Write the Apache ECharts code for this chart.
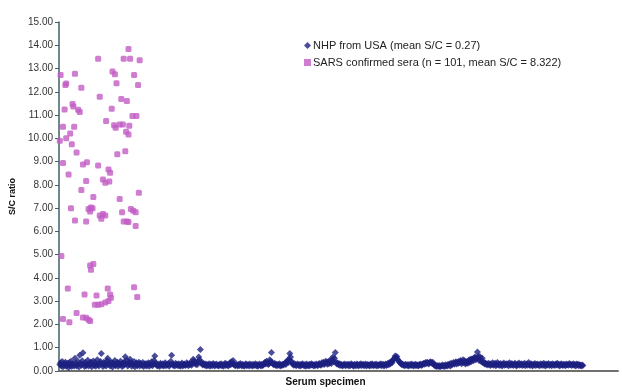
<!DOCTYPE html>
<html>
<head>
<meta charset="utf-8">
<script src="https://cdn.jsdelivr.net/npm/echarts@6/dist/echarts.min.js"></script>
<style>
  html, body { margin: 0; padding: 0; background: #fff; }
  #chart { width: 622px; height: 392px; }
</style>
</head>
<body>
<div id="chart"></div>
<script>
// NHP from USA: S/C ratio per specimen (specimen number = position + 1)
const nhpRatio = [
  0.28,0.35,0.22,0.41,0.18,0.30,0.25,0.38,0.20,0.33,0.27,0.15,0.36,0.24,0.42,0.19,0.31,0.26,0.22,0.55,
  0.34,0.21,0.29,0.40,0.17,0.68,0.32,0.25,0.44,0.78,0.30,0.19,0.37,0.23,0.28,0.46,0.21,0.33,0.26,0.39,
  0.18,0.31,0.43,0.24,0.36,0.20,0.29,0.48,0.27,0.22,0.35,0.41,0.75,0.30,0.19,0.38,0.25,0.33,0.21,0.44,
  0.55,0.28,0.36,0.22,0.40,0.31,0.17,0.34,0.27,0.45,0.23,0.30,0.38,0.20,0.33,0.26,0.42,0.29,0.19,0.35,
  0.24,0.39,0.61,0.31,0.46,0.22,0.34,0.28,0.50,0.37,0.20,0.32,0.26,0.41,0.18,0.30,0.35,0.23,0.29,0.38,
  0.21,0.33,0.27,0.24,0.36,0.19,0.30,0.25,0.32,0.22,0.28,0.35,0.20,0.31,0.26,0.40,0.23,0.29,0.45,0.65,
  0.34,0.27,0.22,0.30,0.25,0.19,0.33,0.28,0.24,0.31,0.21,0.27,0.35,0.23,0.29,0.26,0.32,0.20,0.28,0.42,
  0.68,0.30,0.24,0.27,0.21,0.33,0.26,0.29,0.23,0.31,0.25,0.20,0.28,0.34,0.22,0.27,0.30,0.24,0.26,0.35,
  0.29,0.23,0.31,0.27,0.38,0.25,0.33,0.50,0.44,0.36,0.29,0.34,0.27,0.40,0.60,0.48,0.92,0.38,0.31,0.26,
  0.33,0.28,0.24,0.30,0.22,0.27,0.25,0.31,0.20,0.29,0.26,0.23,0.32,0.28,0.21,0.27,0.30,0.24,0.26,0.22,
  0.29,0.25,0.31,0.23,0.27,0.20,0.28,0.33,0.24,0.30,0.26,0.22,0.29,0.35,0.27,0.40,0.31,0.45,0.28,0.25,
  0.23,0.30,0.26,0.21,0.28,0.24,0.32,0.27,0.22,0.29,0.25,0.20,0.27,0.31,0.23,0.26,0.28,0.22,0.30,0.25,
  0.27,0.21,0.29,0.24,0.26,0.31,0.23,0.28,0.20,0.25,0.30,0.26,0.22,0.29,0.24,0.27,0.33,0.38,0.30,0.42,
  0.35,0.28,0.31,0.48,0.40,0.79,0.36,0.30,0.27,0.33,0.25,0.29,0.23,0.28,0.26,0.31,0.22,0.27,0.24,0.29,
  0.26,0.30,0.34,0.28,0.38,0.45,0.36,0.50,0.75,0.60,0.42,0.33,0.29,0.25,0.31,0.27,0.23,0.28,0.30,0.24,
  0.27,0.22,0.29,0.25,0.31,0.26,0.23,0.28,0.20,0.30,0.24,0.27,0.22,0.29,0.25,0.31,0.26,0.28,0.21,0.27,
  0.24,0.30,0.26,0.23,0.29,0.32,0.27,0.25,0.35,0.30,0.38,0.28,0.33,0.42,0.36,0.29,0.40,0.31,0.45,0.37,
  0.32,0.48,0.60,0.40,0.55,0.79,0.38,0.30,0.34,0.27,0.31,0.24,0.29,0.26,0.22,0.28,0.25,0.30,0.23,0.27,
  0.26,0.29,0.22,0.28,0.24,0.31,0.27,0.25,0.20,0.29,0.26,0.23,0.30,0.27,0.22,0.28,0.25,0.31,0.24,0.27,
  0.29,0.23,0.26,0.30,0.22,0.28,0.25,0.27,0.21,0.29,0.24,0.31,0.26,0.23,0.28,0.25,0.30,0.22,0.27,0.24,
  0.28,0.25,0.31,0.23,0.27,0.29,0.22,0.26,0.30,0.24,0.28,0.33,0.27,0.36,0.31,0.40,0.35,0.45,0.50,0.55,
  0.65,0.58,0.62,0.50,0.45,0.40,0.36,0.32,0.28,0.30,0.25,0.27,0.23,0.29,0.26,0.24,0.28,0.22,0.27,0.25,
  0.30,0.24,0.28,0.21,0.26,0.29,0.23,0.27,0.25,0.22,0.28,0.26,0.30,0.24,0.27,0.31,0.33,0.29,0.36,0.32,
  0.38,0.34,0.30,0.35,0.40,0.37,0.33,0.38,0.30,0.26,0.22,0.25,0.19,0.23,0.20,0.24,0.18,0.22,0.21,0.26,
  0.20,0.24,0.19,0.27,0.23,0.21,0.28,0.25,0.30,0.22,0.33,0.27,0.31,0.36,0.29,0.34,0.40,0.30,0.38,0.33,
  0.42,0.36,0.45,0.31,0.39,0.48,0.35,0.44,0.30,0.37,0.41,0.33,0.46,0.38,0.50,0.40,0.52,0.50,0.44,0.57,
  0.60,0.48,0.55,0.82,0.62,0.45,0.62,0.50,0.40,0.55,0.35,0.38,0.30,0.34,0.28,0.31,0.26,0.33,0.29,0.24,
  0.31,0.27,0.35,0.25,0.29,0.33,0.23,0.28,0.36,0.26,0.30,0.24,0.32,0.27,0.22,0.29,0.34,0.25,0.28,0.31,
  0.26,0.30,0.23,0.35,0.28,0.25,0.32,0.27,0.24,0.29,0.33,0.26,0.22,0.30,0.27,0.34,0.25,0.28,0.31,0.24,
  0.29,0.26,0.33,0.23,0.28,0.30,0.25,0.36,0.27,0.24,0.31,0.28,0.22,0.29,0.26,0.32,0.24,0.27,0.30,0.25,
  0.28,0.23,0.31,0.26,0.29,0.24,0.33,0.27,0.22,0.30,0.25,0.28,0.32,0.24,0.27,0.29,0.23,0.31,0.26,0.28,
  0.24,0.30,0.27,0.33,0.25,0.29,0.22,0.28,0.31,0.26,0.24,0.29,0.27,0.23,0.30,0.26,0.28,0.25,0.32,0.27,
  0.29,0.24,0.27,0.31,0.25,0.28,0.22,0.30,0.26,0.29,0.23,0.27,0.25,0.22,0.26,0.24
];

// SARS confirmed sera: specimen position and S/C ratio
const sarsSpecimen = [
  87,49,81,89,101,2,20,67,70,94,9,8,72,99,28,51,78,85,7,17,
  18,24,26,66,92,97,59,5,19,14,9,1,16,69,71,76,80,88,84,87,
  73,83,22,5,30,35,49,62,64,12,55,58,63,34,28,43,100,76,15,37,
  40,42,39,51,55,58,53,79,90,93,96,20,34,81,85,87,96,3,39,43,
  40,11,61,94,98,32,47,64,65,62,58,53,49,45,5,13,22,30,34,37,
  39
];
const sarsRatio = [
  13.84,13.42,13.42,13.42,13.36,12.72,12.78,12.87,12.75,12.72,12.36,12.29,12.37,12.29,12.17,11.79,11.69,11.60,11.24,11.48,
  11.37,11.23,11.13,11.27,10.96,10.96,10.75,10.50,10.50,10.21,10.00,9.90,9.75,10.56,10.45,10.59,10.59,10.54,10.28,10.17,
  9.32,9.44,9.39,8.94,8.87,8.97,8.83,8.66,8.52,8.45,8.23,8.09,8.14,8.17,7.78,7.48,7.66,7.39,6.99,6.96,
  7.03,6.99,6.86,6.68,6.75,6.68,6.54,6.82,6.96,6.89,6.82,6.47,6.43,6.43,6.43,6.40,6.23,4.94,4.53,4.60,
  4.35,3.55,3.55,3.60,3.18,3.29,3.25,3.29,3.15,3.01,2.94,2.87,2.85,2.85,2.23,2.09,2.49,2.30,2.29,2.20,
  2.15
];

const seriesNames = [
  'NHP from USA (mean S/C = 0.27)',
  'SARS confirmed sera (n = 101, mean S/C = 8.322)'
];

const chart = echarts.init(document.getElementById('chart'));

const font = 'Liberation Sans, Arial, sans-serif';

chart.setOption({
  backgroundColor: '#fff',
  animation: false,
  textStyle: { fontFamily: font },
  grid: { left: 59, right: 4, top: 22, bottom: 16 },
  legend: {
    orient: 'vertical',
    left: 299,
    top: 35,
    itemGap: 6,
    itemWidth: 7,
    itemHeight: 7,
    textStyle: { fontFamily: font, fontSize: 11, color: '#222', padding: [0, 0, 0, -3] },
    data: [
      { name: seriesNames[0], icon: 'diamond' },
      { name: seriesNames[1], icon: 'rect' }
    ]
  },
  xAxis: {
    type: 'value',
    min: 0,
    max: 700,
    name: 'Serum specimen',
    nameLocation: 'middle',
    nameGap: 6,
    nameTextStyle: { fontFamily: font, fontSize: 10, fontWeight: 'bold', color: '#111', padding: [0, 26, 0, 0] },
    axisLine: { show: true, lineStyle: { color: '#6f6f6f', width: 2 } },
    axisTick: { show: false },
    axisLabel: { show: false },
    splitLine: { show: false }
  },
  yAxis: {
    type: 'value',
    min: 0,
    max: 15,
    interval: 1,
    name: 'S/C ratio',
    nameLocation: 'middle',
    nameGap: 33,
    nameTextStyle: { fontFamily: font, fontSize: 9, fontWeight: 'bold', color: '#111' },
    axisLine: { show: true, lineStyle: { color: '#3f5f6a', width: 1.5 } },
    axisTick: { show: true, length: 4, lineStyle: { color: '#3f5f6a' } },
    axisLabel: {
      fontFamily: font,
      fontSize: 10,
      color: '#333',
      margin: 6,
      formatter: v => v.toFixed(2)
    },
    splitLine: { show: false }
  },
  series: [
    {
      name: seriesNames[0],
      type: 'scatter',
      symbol: 'diamond',
      symbolSize: 7,
      itemStyle: { color: '#1d2180' },
      data: nhpRatio.map((v, i) => [i + 1, v])
    },
    {
      name: seriesNames[1],
      type: 'scatter',
      symbol: 'roundRect',
      symbolSize: 6,
      itemStyle: { color: '#c25cc4' },
      data: sarsRatio.map((v, i) => [sarsSpecimen[i], v])
    }
  ]
});
</script>
</body>
</html>
